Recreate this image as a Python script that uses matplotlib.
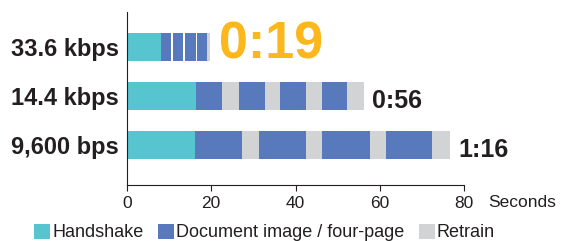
import matplotlib
matplotlib.use("Agg")
import matplotlib.pyplot as plt
from matplotlib.patches import Patch

plt.rcParams['font.family'] = ['Liberation Sans', 'DejaVu Sans']

# rows from top to bottom
speeds = ["33.6 kbps", "14.4 kbps", "9,600 bps"]
totals = ["0:19", "0:56", "1:16"]

# segments per row: (start, length, kind) in seconds
seg_336 = [(0, 8.1, "hs"), (8.1, 2.4, "doc"), (10.9, 2.35, "doc"), (13.7, 2.6, "doc"),
           (16.7, 2.3, "doc"), (19.0, 0.6, "rt")]
seg_144 = [(0, 16.3, "hs"), (16.3, 6.3, "doc"), (22.6, 3.9, "rt"), (26.5, 6.2, "doc"),
           (32.7, 3.6, "rt"), (36.3, 6.2, "doc"), (42.5, 3.8, "rt"), (46.3, 6.0, "doc"),
           (52.3, 3.9, "rt")]
seg_96 = [(0, 16.2, "hs"), (16.2, 11.2, "doc"), (27.4, 4.0, "rt"), (31.4, 11.0, "doc"),
          (42.4, 4.0, "rt"), (46.4, 11.2, "doc"), (57.6, 3.8, "rt"), (61.4, 11.1, "doc"),
          (72.5, 4.1, "rt")]
segments = [seg_336, seg_144, seg_96]

colors = {"hs": "#56c5d0", "doc": "#587abd", "rt": "#d1d3d4"}
legend_labels = {"hs": "Handshake", "doc": "Document image / four-page", "rt": "Retrain"}
dark = "#231f20"

fig = plt.figure(figsize=(5.65, 2.41), dpi=100)
ax = fig.add_axes([127 / 565, 1 - 185 / 241, (464 - 127) / 565, 173 / 241])

ypos = [2, 1, 0]
for i, segs in enumerate(segments):
    for start, length, kind in segs:
        ax.barh(ypos[i], length, left=start, height=0.57, color=colors[kind], linewidth=0)
    end = segs[-1][0] + segs[-1][1]
    if i == 0:
        ax.text(end + 2.3, ypos[i] + 0.04, totals[i], fontsize=37.5, fontweight="bold",
                color="#fbb71b", va="center", ha="left")
    else:
        ax.text(end + 2.0, ypos[i] - 0.1, totals[i], fontsize=18, fontweight="bold",
                color=dark, va="center", ha="left")

ax.set_xlim(0, 80)
ax.set_ylim(-0.816, 2.714)
ax.set_xticks([0, 20, 40, 60, 80])
ax.set_yticks(ypos)
ax.set_yticklabels(speeds, fontsize=17, fontweight="bold", color=dark)
ax.tick_params(axis="y", length=0, pad=6)
ax.tick_params(axis="x", labelsize=12.5, colors=dark, length=4, width=0.8, pad=4)
for s in ["top", "right"]:
    ax.spines[s].set_visible(False)
ax.spines["left"].set_color(dark)
ax.spines["bottom"].set_color(dark)
ax.text((488 - 127) / 337, -0.06, "Seconds", transform=ax.transAxes, fontsize=12.5,
        color=dark, ha="left", va="top")

handles = [Patch(facecolor=colors[k], edgecolor="none", label=legend_labels[k])
           for k in ["hs", "doc", "rt"]]
fig.legend(handles=handles, loc="center left", bbox_to_anchor=(34 / 565, 0.035), ncol=3,
           frameon=False, fontsize=13, handlelength=0.9, handleheight=0.9,
           handletextpad=0.1, columnspacing=0.8, borderpad=0, borderaxespad=0,
           labelcolor=dark)

fig.savefig("out.png", dpi=100)
